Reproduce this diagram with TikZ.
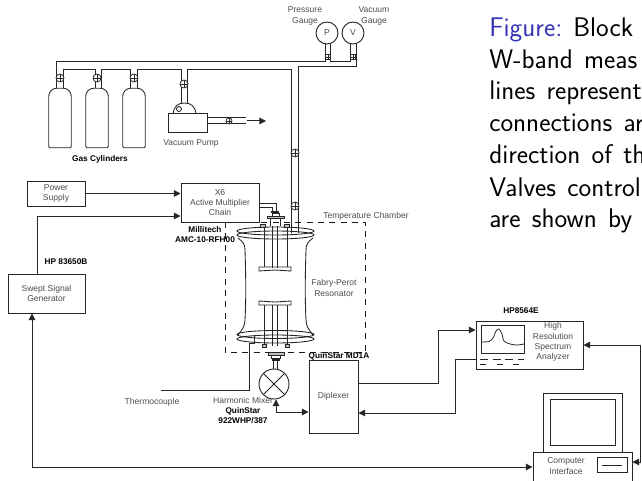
\documentclass[tikz,border=0pt]{standalone}
\usepackage{fontspec}
\setmainfont{Liberation Sans}
\usepackage{pgf, tikz}
\usetikzlibrary{arrows.meta}
\pgfdeclarelayer{edgelayer}
\pgfdeclarelayer{nodelayer}
\pgfsetlayers{edgelayer,nodelayer,main}
\definecolor{figblue}{RGB}{51,51,179}
\tikzstyle{pipe}=[draw=black!85, line width=0.75pt]
\tikzstyle{link}=[draw=black!85, line width=0.75pt, -{Triangle[length=5pt,width=5pt]}]
\tikzstyle{shell}=[draw=black!85, line width=0.65pt]
\tikzstyle{block}=[rectangle, draw=black!85, fill=white, line width=0.75pt, inner sep=0pt, align=center, text=black!70, font=\fontsize{6.4}{7.7}\selectfont]
\tikzstyle{bottle}=[rectangle, minimum width=16.5pt, minimum height=44.25pt, inner sep=0pt]
\tikzstyle{valve}=[circle, draw=black!85, fill=white, line width=0.6pt, minimum size=6pt, inner sep=0pt, path picture={\draw [black!85, line width=0.5pt] (path picture bounding box.north) -- (path picture bounding box.south) (path picture bounding box.west) -- (path picture bounding box.east);}]
\tikzstyle{gate}=[rectangle, draw=black!85, fill=white, line width=0.55pt, minimum size=3.75pt, inner sep=0pt, path picture={\draw [black!85, line width=0.55pt] (path picture bounding box.north) -- (path picture bounding box.south) (path picture bounding box.west) -- (path picture bounding box.east);}]
\tikzstyle{gauge}=[circle, draw=black!85, fill=white, line width=0.7pt, minimum size=16.5pt, inner sep=0pt, text=black!70, font=\fontsize{6.4}{7.7}\selectfont]
\tikzstyle{tag}=[inner sep=0pt, align=center, text=black!70, font=\fontsize{6.4}{7.7}\selectfont]
\tikzstyle{boldtag}=[inner sep=0pt, align=center, text=black, font=\fontsize{6.2}{7.7}\selectfont\bfseries]
\tikzstyle{caption}=[inner sep=0pt, anchor=base west, text=black, font=\fontsize{20.2}{24}\sffamily, execute at begin node={\spaceskip=.42em\relax}]
\begin{document}
\begin{tikzpicture}[x=0.75pt, y=-0.75pt]
	\useasboundingbox (0,0) rectangle (642,481);
	\begin{pgfonlayer}{nodelayer}
		% gas handling
		\node [style=bottle] (cyl1) at (60,118) {};
		\node [style=bottle] (cyl2) at (97,118) {};
		\node [style=bottle] (cyl3) at (134,118) {};
		\node [style=block, minimum width=29.25pt, minimum height=14.25pt] (pump) at (187.5,123.5) {};
		\node [style=valve] (v1) at (60,78) {};
		\node [style=valve] (v2) at (97,78) {};
		\node [style=valve] (v3) at (134,78) {};
		\node [style=valve] (v4) at (184,84) {};
		\node [style=valve, minimum size=4.5pt] (v5) at (229,121) {};
		\node [style=valve] (v6) at (295,153) {};
		\node [style=valve] (v7) at (295,206) {};
		\node [style=gauge] (pgauge) at (327,33) {P};
		\node [style=gauge] (vgauge) at (353,33) {V};
		\node [style=gate] (g1) at (328,57) {};
		\node [style=gate] (g2) at (353,57) {};
		\node [style=tag] (ptext) at (305,16) {Pressure\\Gauge};
		\node [style=tag] (vtext) at (374,16) {Vacuum\\Gauge};
		\node [style=boldtag] (gastext) at (100,159) {Gas Cylinders};
		\node [style=tag] (pumptext) at (191,143) {Vacuum Pump};
		% sources
		\node [style=block, minimum width=43.5pt, minimum height=18.75pt] (power) at (56,193.5) {Power\\Supply};
		\node [style=block, minimum width=58.5pt, minimum height=29.25pt] (x6) at (220,202.5) {X6\\Active Multiplier\\Chain};
		\node [style=block, minimum width=57.75pt, minimum height=29.25pt] (sweep) at (46.5,293.5) {Swept Signal\\Generator};
		\node [style=boldtag] (hptext) at (66,262) {HP 83650B};
		\node [style=boldtag] (milltext) at (205,234.5) {Millitech\\AMC-10-RFH00};
		% chamber
		\node [style=tag] (chambertext) at (366,216) {Temperature Chamber};
		\node [style=tag] (fptext) at (334,288) {Fabry-Perot\\Resonator};
		\node [style=tag] (tctext) at (152,402) {Thermocouple};
		% mixer and diplexer
		\node [style=gauge, minimum size=22.5pt, path picture={\draw [black!85, line width=0.6pt] (path picture bounding box.north west) -- (path picture bounding box.south east) (path picture bounding box.north east) -- (path picture bounding box.south west);}] (mixer) at (274,384) {};
		\node [style=tag] (mixtext) at (243,400) {Harmonic Mixer};
		\node [style=boldtag] (quintext) at (243,415.5) {QuinStar\\922WHP/387};
		\node [style=block, minimum width=36.75pt, minimum height=54.75pt] (diplexer) at (333.5,396.5) {Diplexer};
		\node [style=boldtag] (mdtext) at (339,356) {QuinStar MD1A};
		% instruments
		\node [style=block, minimum width=80.25pt, minimum height=36pt] (analyzer) at (529.5,345) {};
		\node [style=block, minimum width=32.25pt, minimum height=21pt] (screen) at (502.5,339) {};
		\node [style=tag] (antext) at (553,342) {High\\Resolution\\Spectrum\\Analyzer};
		\node [style=boldtag] (hp8text) at (521,311) {HP8564E};
		\node [style=block, minimum width=59.25pt, minimum height=44.25pt] (monitor) at (582.5,422.5) {};
		\node [style=block, minimum width=48.75pt, minimum height=34.5pt] (inner) at (582.5,422.5) {};
		\node [style=block, minimum width=74.25pt, minimum height=27pt] (computer) at (582.5,470) {};
		\node [style=block, minimum width=22.5pt, minimum height=11.25pt] (slot) at (612,464.5) {};
		\node [style=tag] (comptext) at (566,466) {Computer\\Interface};
		% text beside the figure
		\node [style=caption, text=figblue] (cap1) at (489,37) {Figure:};
		\node [style=caption] (cap1b) at (573,37) {Block};
		\node [style=caption] (cap2) at (489,68.5) {W-band meas};
		\node [style=caption] (cap3) at (489,100) {lines represent};
		\node [style=caption] (cap4) at (489,132) {connections ar};
		\node [style=caption] (cap5) at (489,164) {direction of th};
		\node [style=caption] (cap6) at (489,196) {Valves control};
		\node [style=caption] (cap7) at (489,227) {are shown by s};
	\end{pgfonlayer}
	\begin{pgfonlayer}{edgelayer}
		\coordinate (t1) at (325,62);
		\coordinate (t2) at (95,70);
		\coordinate (t3) at (130,70);
		\coordinate (t4) at (181,70);
		\coordinate (t5) at (291,70);
		\coordinate (t6) at (356,67);
		\coordinate (t7) at (350,62);
		\coordinate (d1) at (181,104);
		\coordinate (d2) at (187,104);
		\coordinate (cav1) at (291,233);
		\coordinate (cav2) at (298,233);
		\coordinate (o1) at (246,118);
		\coordinate (o2) at (246,124);
		\coordinate (o3) at (247,121);
		\coordinate (o4) at (266,121);
		\draw [style=pipe] ([xshift=-3pt]cyl1.north) |- (t1) to ([xshift=-1.5pt]pgauge.south);
		\draw [style=pipe] ([xshift=2.25pt]cyl1.north) |- (t2) to ([xshift=-1.5pt]cyl2.north);
		\draw [style=pipe] ([xshift=3pt]cyl2.north) |- (t3) to ([xshift=-3pt]cyl3.north);
		\draw [style=pipe] ([xshift=2.25pt]cyl3.north) |- (t4) to (d1);
		\draw [style=pipe] (d2) |- (t5) to (cav1);
		\draw [style=pipe] (cav2) |- (t6) to ([xshift=2.25pt]vgauge.south);
		\draw [style=pipe] ([xshift=2.25pt]pgauge.south) |- (t7) to ([xshift=-2.25pt]vgauge.south);
		\draw [style=pipe] (pump.east |- o1) to (o1);
		\draw [style=pipe] (pump.east |- o2) to (o2);
		\draw [style=link] (o3) to (o4);
		% bottles and pump head
		\draw [style=shell, rounded corners=1pt] (cyl1.south west) [rounded corners=6pt] -- (cyl1.north west) -- (cyl1.north east) [rounded corners=1pt] -- (cyl1.south east) -- cycle;
		\draw [style=shell, rounded corners=1pt] (cyl2.south west) [rounded corners=6pt] -- (cyl2.north west) -- (cyl2.north east) [rounded corners=1pt] -- (cyl2.south east) -- cycle;
		\draw [style=shell, rounded corners=1pt] (cyl3.south west) [rounded corners=6pt] -- (cyl3.north west) -- (cyl3.north east) [rounded corners=1pt] -- (cyl3.south east) -- cycle;
		\draw [style=shell, fill=white] (173,114) .. controls (174,106) and (178,103) .. (184.5,103) .. controls (191,103) and (195,106) .. (196,114);
		\draw [style=shell] (179,109) circle (2.5);
		% signal lines
		\coordinate (s1) at (37,216);
		\coordinate (m1) at (0,412);
		\coordinate (b1) at (32,467);
		\coordinate (a1) at (438,383);
		\coordinate (a2) at (438,330);
		\coordinate (a3) at (455,359);
		\coordinate (a4) at (455,413);
		\coordinate (c1) at (640.5,345);
		\coordinate (c2) at (640.5,462);
		\draw [style=link] (power.east) to (power.east -| x6.west);
		\draw [style=link] (sweep.north -| s1) |- (s1 -| x6.west);
		\draw [style=link, {Triangle[length=5pt,width=5pt]}-{Triangle[length=5pt,width=5pt]}] (computer.west |- b1) -| (b1 |- sweep.south);
		\draw [style=link] (diplexer.east |- a1) -| (a2) to (analyzer.west |- a2);
		\draw [style=link] (analyzer.west |- a3) -| (a4) to (diplexer.east |- a4);
		\draw [style=link] (c1) to (analyzer.east |- c1);
		\draw [style=link] (c1) to (c2) to (computer.east |- c2);
		\draw [style=link, {Triangle[length=5pt,width=5pt]}-{Triangle[length=5pt,width=5pt]}] ([xshift=1.5pt]mixer.south) |- (diplexer.west |- m1);
		% thermocouple
		\coordinate (tc1) at (254,335);
		\coordinate (tc2) at (249,343);
		\coordinate (tc3) at (161,390);
		\draw [style=pipe] (tc1) |- (tc2) |- (tc3);
		% chamber
		\draw [draw=black!90, line width=0.75pt, dash pattern=on 4.5pt off 4pt] (225,222) rectangle (365.5,352);
		% resonator body
		\draw [style=shell] (275.5,231) ellipse [x radius=38.5, y radius=4];
		\draw [style=shell] (275.5,235) ellipse [x radius=38.5, y radius=4];
		\draw [style=shell] (275.5,334.5) ellipse [x radius=38.5, y radius=4];
		\draw [style=shell] (275.5,339) ellipse [x radius=38.5, y radius=4];
		\draw [style=shell] (238,238) .. controls (243,242) and (245,244) .. (245,250) .. controls (246,280) and (246,300) .. (245,320) .. controls (245,326) and (242,330) .. (238,335);
		\draw [style=shell] (313,238) .. controls (308,242) and (306,244) .. (306,250) .. controls (305,280) and (305,300) .. (306,320) .. controls (306,326) and (309,330) .. (313,335);
		% mirrors and rods
		\draw [style=shell, fill=white] (259,267) -- (291,267) -- (291,271) -- (275,270) -- (259,271) -- cycle;
		\draw [style=shell, fill=white] (259,301) -- (275,302) -- (291,301) -- (291,305) -- (259,305) -- cycle;
		\draw [style=shell] (264,226) -- (264,267) (287,226) -- (287,267) (272.5,226) -- (272.5,268) (277,226) -- (277,268);
		\draw [style=shell] (264,305) -- (264,344) (287,305) -- (287,344) (272.5,305) -- (272.5,346) (277,305) -- (277,346);
		\draw [style=shell, fill=black!25] (260.5,224) rectangle (265.5,227);
		\draw [style=shell, fill=black!25] (284,224) rectangle (289,227);
		\draw [style=shell, fill=black!25] (262,344) rectangle (266.5,347);
		\draw [style=shell, fill=black!25] (285,344) rectangle (289.5,347);
		% waveguide to the multiplier
		\draw [style=pipe] (x6.east |- 0,203) -- (276.5,203) -- (276.5,211);
		\draw [style=pipe] (x6.east |- 0,207) -- (272,207) -- (272,211);
		\draw [fill=black!85, draw=none] (271,210.5) rectangle (279,213);
		\draw [style=shell, fill=white] (272,213) rectangle (279,216);
		\draw [style=shell, fill=black!25] (267,216) rectangle (284,218.5);
		\draw [style=shell] (270,218.5) -- (270,226) (280,218.5) -- (280,226);
		% waveguide to the mixer
		\draw [style=shell, fill=black!25] (268,352) rectangle (284,355);
		\draw [style=shell, fill=white] (271,355) rectangle (280,358);
		\draw [fill=black!85, draw=none] (272,358) rectangle (280,360.5);
		\draw [style=pipe] (273.5,360.5) -- (273.5,369) (277,360.5) -- (277,369);
	\end{pgfonlayer}
	% front panel
	\draw [style=shell, line width=0.6pt] plot [smooth] coordinates {(481,342) (489,341.5) (493,338) (496,331) (499,329) (502,334) (504,341) (510,344) (517,345) (524,344)};
	\draw [style=shell, dash pattern=on 6pt off 3.5pt] (480,359) -- (524,359);
	\draw [style=shell, dash pattern=on 4.5pt off 8pt] (480,364) -- (524,364);
	\draw [style=shell] (602,465) -- (622,465);
\end{tikzpicture}
\end{document}
